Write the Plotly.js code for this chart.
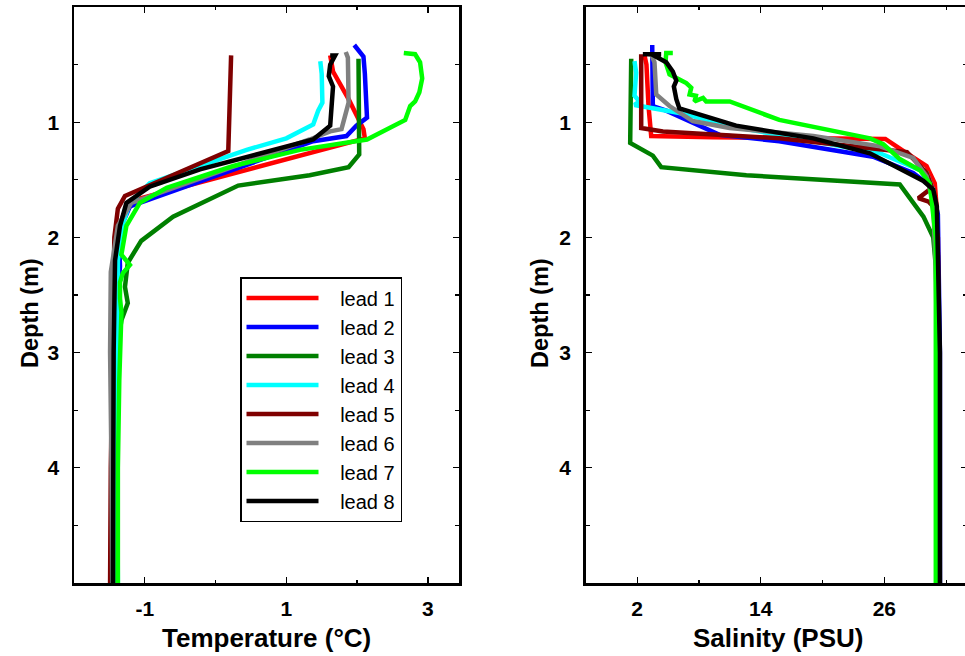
<!DOCTYPE html>
<html>
<head>
<meta charset="utf-8">
<script src="https://cdn.plot.ly/plotly-3.0.1.min.js"></script>
<style>
html,body{margin:0;padding:0;overflow:hidden;background:#fff;}
#chart{width:968px;height:656px;}
</style>
</head>
<body>
<div id="chart"></div>
<script>
// ---------- series names & colours ----------
const leadNames = ["lead 1","lead 2","lead 3","lead 4","lead 5","lead 6","lead 7","lead 8"];
const leadColors = ["#ff0000","#0000ff","#007f00","#00ffff","#7f0000","#808080","#00ff00","#000000"];

// ---------- temperature profiles (depth m, temperature °C) ----------
const tDepth1 = [0.42,0.56,0.80,1.06,1.14,1.67,1.80,2.0,2.5,3.0,4.0,5.0];
const tTemp1  = [1.62,1.66,1.88,2.09,2.11,-1.12,-1.30,-1.40,-1.44,-1.46,-1.47,-1.48];
const tDepth2 = [0.33,0.43,0.58,0.96,1.03,1.12,1.165,1.73,1.90,2.10,2.25,2.5,3.0,4.0,5.0];
const tTemp2  = [1.96,2.09,2.11,2.14,1.99,1.85,1.38,-1.21,-1.33,-1.36,-1.35,-1.38,-1.39,-1.40,-1.42];
const tDepth3 = [0.45,1.28,1.39,1.46,1.55,1.82,2.03,2.22,2.43,2.57,2.72,3.0,4.0,5.0];
const tTemp3  = [2.02,2.03,1.88,1.33,0.32,-0.60,-1.05,-1.24,-1.28,-1.24,-1.33,-1.40,-1.41,-1.42];
const tDepth4 = [0.47,0.58,0.83,0.90,1.02,1.14,1.24,1.41,1.53,1.70,1.90,2.2,3.0,4.0,5.0];
const tTemp4  = [1.48,1.50,1.51,1.45,1.38,1.00,0.44,-0.36,-0.93,-1.21,-1.32,-1.38,-1.39,-1.39,-1.38];
const tDepth5 = [0.42,0.60,1.00,1.25,1.64,1.75,2.0,3.0,4.0,5.0];
const tTemp5  = [0.22,0.21,0.20,0.18,-1.28,-1.38,-1.43,-1.46,-1.48,-1.49];
const tDepth6 = [0.39,0.44,0.83,0.95,1.06,1.08,1.15,1.70,1.90,2.3,3.0,4.0,5.0];
const tTemp6  = [1.84,1.87,1.88,1.83,1.78,1.62,1.33,-1.19,-1.38,-1.48,-1.49,-1.47,-1.46];
const tDepth7 = [0.40,0.41,0.48,0.62,0.74,0.82,0.86,0.98,1.15,1.24,1.38,1.57,1.70,1.90,2.15,2.24,2.31,2.39,2.53,2.65,3.24,4.0,5.0];
const tTemp7  = [2.66,2.82,2.89,2.92,2.88,2.82,2.75,2.68,2.14,1.19,0.25,-0.69,-1.07,-1.26,-1.33,-1.21,-1.31,-1.35,-1.35,-1.33,-1.36,-1.38,-1.38];
const tDepth8 = [0.42,0.42,0.50,0.60,0.69,0.86,1.03,1.15,1.24,1.41,1.56,1.70,1.90,2.2,3.0,4.0,5.0];
const tTemp8  = [1.62,1.69,1.62,1.60,1.66,1.64,1.62,1.38,0.81,-0.22,-0.93,-1.26,-1.35,-1.42,-1.44,-1.45,-1.45];

// ---------- salinity profiles (depth m, salinity PSU) ----------
const sDepth1 = [0.42,0.50,0.86,1.12,1.13,1.14,1.145,1.27,1.38,1.53,1.82,3.0,5.0];
const sSal1   = [2.71,2.90,3.10,3.36,9.35,19.1,26.1,28.2,30.1,30.9,31.15,31.3,31.3];
const sDepth2 = [0.33,0.42,0.86,0.90,1.06,1.11,1.165,1.30,1.44,1.56,1.80,3.0,5.0];
const sSal2   = [3.46,3.46,3.52,4.82,8.7,10.0,15.8,24.9,28.8,30.6,31.2,31.4,31.4];
const sDepth3 = [0.45,1.18,1.29,1.39,1.46,1.54,1.82,2.0,2.25,3.0,5.0];
const sSal3   = [1.42,1.32,3.52,4.33,12.6,27.5,29.8,30.75,31.0,31.1,31.2];
const sDepth4 = [0.47,0.57,0.77,0.82,0.85,0.92,1.06,1.27,1.44,1.59,2.0,3.0,5.0];
const sSal4   = [1.74,1.90,1.74,2.22,1.74,6.1,12.6,25.6,30.1,30.75,31.1,31.15,31.1];
const sDepth5 = [0.41,1.05,1.08,1.14,1.26,1.44,1.56,1.585,1.66,1.69,1.73,2.0,3.0,5.0];
const sSal5   = [2.39,2.39,4.5,15.8,28.2,30.1,30.6,30.4,29.3,30.3,30.75,31.2,31.3,31.3];
const sDepth6 = [0.41,0.48,0.76,0.86,0.99,1.05,1.12,1.21,1.31,1.47,1.70,3.0,5.0];
const sSal6   = [3.36,3.68,3.85,5.14,7.4,10.98,19.1,25.6,28.8,30.1,30.75,31.3,31.4];
const sDepth7 = [0.40,0.40,0.48,0.585,0.63,0.66,0.70,0.76,0.77,0.82,0.79,0.82,0.82,0.98,1.14,1.19,1.32,1.42,1.53,2.0,3.0,5.0];
const sSal7   = [5.46,4.82,4.75,5.14,6.1,6.77,7.25,7.09,7.7,7.57,8.4,8.7,10.98,15.8,24.6,25.9,27.5,29.5,30.4,31.0,31.0,31.0];
const sDepth8 = [0.41,0.41,0.41,0.48,0.56,0.64,0.69,0.80,0.88,1.03,1.14,1.27,1.40,1.51,1.585,1.73,3.0,5.0];
const sSal8   = [4.33,2.55,3.40,4.82,5.46,5.80,5.56,5.80,6.10,11.6,19.1,24.6,27.5,29.8,30.75,31.1,31.4,31.4];

// ---------- axis ticks ----------
const depthTicks = [1,2,3,4];
const depthTickLabels = ["1","2","3","4"];
const depthMinor = [0.5,1.5,2.5,3.5,4.5];
const tempTicks = [-1,1,3];
const tempTickLabels = ["-1","1","3"];
const tempMinor = [0,2];
const salTicks = [2,14,26];
const salTickLabels = ["2","14","26"];
const salMinor = [8,20,32];

const tempDepths = [tDepth1,tDepth2,tDepth3,tDepth4,tDepth5,tDepth6,tDepth7,tDepth8];
const tempVals   = [tTemp1,tTemp2,tTemp3,tTemp4,tTemp5,tTemp6,tTemp7,tTemp8];
const salDepths  = [sDepth1,sDepth2,sDepth3,sDepth4,sDepth5,sDepth6,sDepth7,sDepth8];
const salVals    = [sSal1,sSal2,sSal3,sSal4,sSal5,sSal6,sSal7,sSal8];

const W = 968;
const FONT = "Liberation Sans, Arial, Helvetica, sans-serif";
const GAP = "\u00a0\u00a0\u00a0";
const traces = [];
for (let i = 0; i < leadNames.length; i++) {
  traces.push({
    type: "scatter", mode: "lines", name: GAP + leadNames[i],
    x: tempVals[i], y: tempDepths[i], xaxis: "x", yaxis: "y",
    line: {color: leadColors[i], width: 4.5}, legendgroup: leadNames[i]
  });
}
for (let i = 0; i < leadNames.length; i++) {
  traces.push({
    type: "scatter", mode: "lines", name: leadNames[i],
    x: salVals[i], y: salDepths[i], xaxis: "x2", yaxis: "y2",
    line: {color: leadColors[i], width: 4.5}, legendgroup: leadNames[i], showlegend: false
  });
}

function xax(domain, range, ticks, labels, minor, anchor) {
  return {
    domain: domain, range: range, anchor: anchor,
    tickmode: "array", tickvals: ticks, ticktext: labels, ticks: "inside", ticklen: 6, tickwidth: 1.3, tickcolor: "#000",
    minor: {tickmode: "array", tickvals: minor, ticks: "inside", ticklen: 3, tickwidth: 1.2, tickcolor: "#000", showgrid: false},
    showline: true, linewidth: 2.5, linecolor: "#000", mirror: "ticks",
    showgrid: false, zeroline: false,
    tickfont: {family: FONT, size: 21, color: "#000", weight: 700},
    ticklabelstandoff: 5
  };
}
function yax(anchor) {
  return {
    domain: [0,1], range: [5,0], anchor: anchor,
    tickmode: "array", tickvals: depthTicks, ticktext: depthTickLabels, ticks: "inside", ticklen: 6, tickwidth: 1.3, tickcolor: "#000",
    minor: {tickmode: "array", tickvals: depthMinor, ticks: "inside", ticklen: 4, tickwidth: 1.2, tickcolor: "#000", showgrid: false},
    showline: true, linewidth: 2.5, linecolor: "#000", mirror: "ticks",
    showgrid: false, zeroline: false,
    tickfont: {family: FONT, size: 21, color: "#000", weight: 700},
    ticklabelstandoff: 8
  };
}

const xTitleFont = {family: FONT, size: 26, color: "#000", weight: 700};
const yTitleFont = {family: FONT, size: 23.5, color: "#000", weight: 700};
const layout = {
  width: W, height: 656,
  margin: {l: 0, r: 0, t: 7, b: 73},
  paper_bgcolor: "#fff", plot_bgcolor: "#fff",
  showlegend: true,
  xaxis: xax([74/W, 459/W], [-2, 3.44], tempTicks, tempTickLabels, tempMinor, "y"),
  yaxis: yax("x"),
  xaxis2: xax([585.7/W, 966.7/W], [-3, 34], salTicks, salTickLabels, salMinor, "y2"),
  yaxis2: yax("x2"),
  legend: {
    x: 240/W, y: (583-277)/576, xanchor: "left", yanchor: "top",
    bgcolor: "#fff", bordercolor: "#000", borderwidth: 1.5,
    font: {family: FONT, size: 20, color: "#000"},
    tracegroupgap: 0, itemwidth: 72
  },
  annotations: [
    {text: "Temperature (°C)", xref: "paper", yref: "paper", x: 266.5/W, y: (583-638)/576, xanchor: "center", yanchor: "middle", showarrow: false, font: xTitleFont},
    {text: "Salinity (PSU)", xref: "paper", yref: "paper", x: 778/W, y: (583-638)/576, xanchor: "center", yanchor: "middle", showarrow: false, font: xTitleFont},
    {text: "Depth (m)", xref: "paper", yref: "paper", x: 30/W, y: (583-313)/576, xanchor: "center", yanchor: "middle", textangle: -90, showarrow: false, font: yTitleFont},
    {text: "Depth (m)", xref: "paper", yref: "paper", x: 540/W, y: (583-313)/576, xanchor: "center", yanchor: "middle", textangle: -90, showarrow: false, font: yTitleFont}
  ]
};

Plotly.newPlot("chart", traces, layout, {displayModeBar: false, staticPlot: true});
</script>
</body>
</html>
